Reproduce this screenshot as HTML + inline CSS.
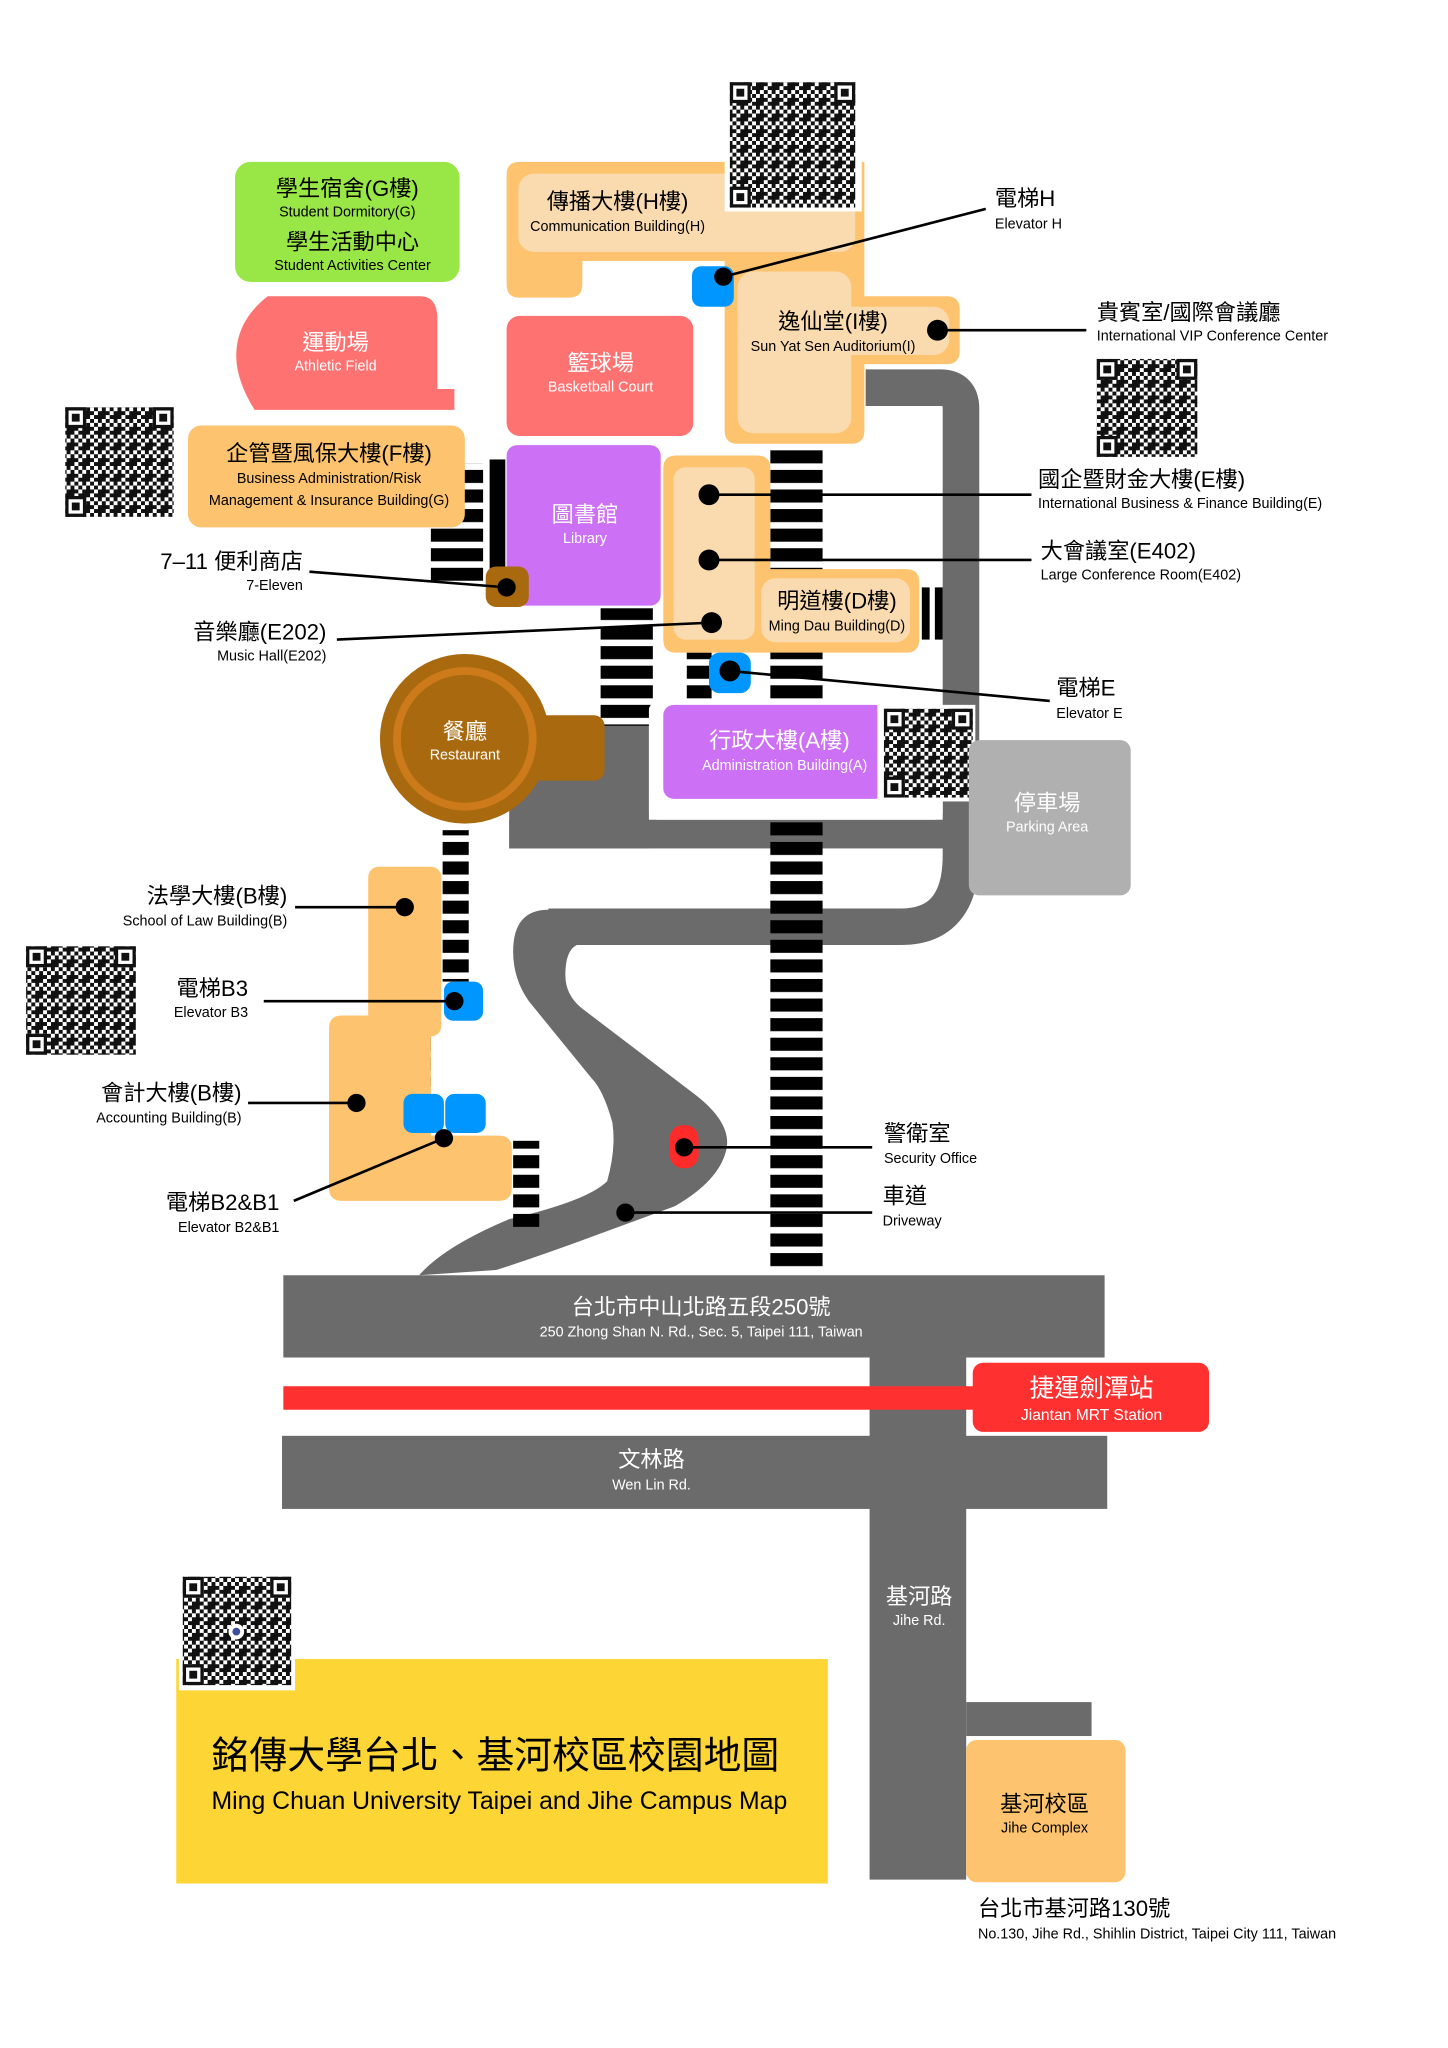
<!DOCTYPE html>
<html><head><meta charset="utf-8"><style>
html,body{margin:0;padding:0;background:#fff;}
svg{display:block;}
text{font-family:"Liberation Sans","Noto Sans CJK TC",sans-serif;}
.c{font-size:17px;}
.e{font-size:11px;}
.w{fill:#fff;}
</style></head><body>
<svg width="1448" height="2048" viewBox="0 0 1109 1569" preserveAspectRatio="none" xmlns="http://www.w3.org/2000/svg">
<defs>
<pattern id="qr" width="12" height="12" patternUnits="userSpaceOnUse">
<rect width="12" height="12" fill="#fff"/>
<rect x="0" y="0" width="3" height="3" fill="#111"/><rect x="6" y="0" width="3" height="6" fill="#111"/>
<rect x="3" y="3" width="3" height="3" fill="#111"/><rect x="9" y="3" width="3" height="3" fill="#111"/>
<rect x="0" y="6" width="6" height="3" fill="#111"/><rect x="9" y="9" width="3" height="3" fill="#111"/>
<rect x="3" y="9" width="3" height="3" fill="#111"/><rect x="6" y="6" width="3" height="3" fill="#111"/>
</pattern>
<pattern id="stairH" width="10" height="15" patternUnits="userSpaceOnUse"><rect width="10" height="10" fill="#000"/></pattern>
<g id="finder"><rect width="16" height="16" fill="#111"/><rect x="2.5" y="2.5" width="11" height="11" fill="#fff"/><rect x="5" y="5" width="6" height="6" fill="#111"/></g>
</defs>

<!-- gray roads -->
<path d="M663,297 H720 Q736,297 736,313 V655 Q736,710 690,710 H420" fill="none" stroke="#6b6b6b" stroke-width="28"/>
<rect x="390" y="628" width="346" height="22" fill="#6b6b6b"/>
<rect x="390" y="555" width="107" height="95" fill="#6b6b6b"/>
<path d="M420,697 H700 V723 H445 Q433,725 433,747 Q433,762 445,772 L529,836 Q562,860 556,882 Q550,905 517,924 L441,952 Q405,965 380,973 L321,977 Q340,955 390,934 Q450,920 465,905 Q472,880 469,860 Q462,835 453,826 L405,767 Q393,750 393,729 Q393,697 420,697 Z" fill="#6b6b6b"/>

<!-- stair columns -->
<rect x="590" y="342" width="40" height="630" fill="url(#stairH)"/>
<rect x="460" y="466" width="40" height="90" fill="url(#stairH)"/>
<rect x="526" y="500" width="19" height="36" fill="url(#stairH)"/>
<rect x="330" y="355" width="40" height="90" fill="url(#stairH)"/>
<rect x="375" y="352" width="12" height="88" fill="#000"/>
<rect x="339" y="636" width="20" height="116" fill="url(#stairH)"/>
<rect x="311" y="790" width="19" height="42" fill="url(#stairH)"/>
<rect x="393" y="874" width="20" height="66" fill="url(#stairH)"/>
<rect x="706" y="450" width="6" height="40" fill="#000"/><rect x="716" y="450" width="6" height="40" fill="#000"/>

<!-- white admin bg -->
<rect x="497" y="538" width="225" height="90" rx="6" fill="#fff"/>

<!-- Communication H -->
<path d="M398,124 H662 V200 H446 V218 Q446,228 436,228 H398 Q388,228 388,218 V134 Q388,124 398,124 Z" fill="#fdc36e"/>
<rect x="397" y="133" width="258" height="60" rx="12" fill="#fadbb0"/>
<rect x="555" y="60" width="105" height="102" fill="#fff"/>
<rect x="559" y="63" width="96" height="96" fill="url(#qr)"/>
<use href="#finder" x="559" y="63"/><use href="#finder" x="639" y="63"/><use href="#finder" x="559" y="143"/>
<text x="473" y="160" class="c" text-anchor="middle">傳播大樓(H樓)</text>
<text x="473" y="177" class="e" text-anchor="middle">Communication Building(H)</text>

<!-- Sun Yat Sen -->
<path d="M555,200 H662 V227 H725 Q735,227 735,237 V269 Q735,279 725,279 H662 V330 Q662,340 652,340 H565 Q555,340 555,330 Z" fill="#fdc36e"/>
<rect x="565" y="208" width="87" height="124" rx="12" fill="#fadbb0"/>
<rect x="565" y="235" width="162" height="37" rx="12" fill="#fadbb0"/>
<text x="638" y="252" class="c" text-anchor="middle">逸仙堂(I樓)</text>
<text x="638" y="269" class="e" text-anchor="middle">Sun Yat Sen Auditorium(I)</text>

<!-- elevator H -->
<rect x="530" y="204" width="32" height="31" rx="7" fill="#0096ff"/>
<line x1="554" y1="212" x2="755" y2="160" stroke="#000" stroke-width="2"/>
<circle cx="554" cy="212" r="7"/>
<text x="762" y="158" class="c">電梯H</text><text x="762" y="175" class="e">Elevator H</text>

<line x1="718" y1="253" x2="832" y2="253" stroke="#000" stroke-width="2"/><circle cx="718" cy="253" r="8"/>
<text x="840" y="245" class="c">貴賓室/國際會議廳</text>
<text x="840" y="261" class="e">International VIP Conference Center</text>
<rect x="840" y="275" width="77" height="75" fill="url(#qr)"/>
<use href="#finder" x="840" y="275"/><use href="#finder" x="901" y="275"/><use href="#finder" x="840" y="334"/>

<!-- Green -->
<rect x="180" y="124" width="172" height="92" rx="12" fill="#99e647"/>
<text x="266" y="150" class="c" text-anchor="middle">學生宿舍(G樓)</text>
<text x="266" y="166" class="e" text-anchor="middle">Student Dormitory(G)</text>
<text x="270" y="191" class="c" text-anchor="middle">學生活動中心</text>
<text x="270" y="207" class="e" text-anchor="middle">Student Activities Center</text>

<!-- Athletic -->
<path d="M205,227 H322 Q335,227 335,245 V298 H348 V314 H195 Q180,290 181,270 Q182,245 205,227 Z" fill="#ff7272"/>
<text x="257" y="268" class="c w" text-anchor="middle">運動場</text>
<text x="257" y="284" class="e w" text-anchor="middle">Athletic Field</text>

<!-- Basketball -->
<rect x="388" y="242" width="143" height="92" rx="10" fill="#ff7272"/>
<text x="460" y="284" class="c w" text-anchor="middle">籃球場</text>
<text x="460" y="300" class="e w" text-anchor="middle">Basketball Court</text>

<!-- F building -->
<rect x="144" y="326" width="212" height="78" rx="10" fill="#fdc36e"/>
<text x="252" y="353" class="c" text-anchor="middle">企管暨風保大樓(F樓)</text>
<text x="252" y="370" class="e" text-anchor="middle">Business Administration/Risk</text>
<text x="252" y="387" class="e" text-anchor="middle">Management &amp; Insurance Building(G)</text>
<rect x="50" y="312" width="83" height="84" fill="url(#qr)"/>
<use href="#finder" x="50" y="312"/><use href="#finder" x="117" y="312"/><use href="#finder" x="50" y="380"/>

<!-- Library -->
<rect x="388" y="341" width="118" height="123" rx="8" fill="#cc70f5"/>
<text x="448" y="400" class="c w" text-anchor="middle">圖書館</text>
<text x="448" y="416" class="e w" text-anchor="middle">Library</text>

<!-- 7-11 -->
<rect x="372" y="434" width="33" height="31" rx="8" fill="#a8690f"/>
<line x1="237" y1="438" x2="388" y2="450" stroke="#000" stroke-width="2"/><circle cx="388" cy="450" r="7"/>
<text x="232" y="436" class="c" text-anchor="end">7–11 便利商店</text>
<text x="232" y="452" class="e" text-anchor="end">7-Eleven</text>

<!-- E & D buildings -->
<path d="M518,349 H580 Q590,349 590,359 V436 H694 Q704,436 704,446 V490 Q704,500 694,500 H518 Q508,500 508,490 V359 Q508,349 518,349 Z" fill="#fdc36e"/>
<rect x="516" y="358" width="62" height="132" rx="9" fill="#fadbb0"/>
<rect x="583" y="443" width="114" height="49" rx="11" fill="#fadbb0"/>
<text x="641" y="466" class="c" text-anchor="middle">明道樓(D樓)</text>
<text x="641" y="483" class="e" text-anchor="middle">Ming Dau Building(D)</text>
<line x1="543" y1="379" x2="790" y2="379" stroke="#000" stroke-width="2"/><circle cx="543" cy="379" r="8"/>
<line x1="543" y1="429" x2="790" y2="429" stroke="#000" stroke-width="2"/><circle cx="543" cy="429" r="8"/>
<line x1="258" y1="490" x2="545" y2="477" stroke="#000" stroke-width="2"/><circle cx="545" cy="477" r="8"/>
<text x="795" y="373" class="c">國企暨財金大樓(E樓)</text>
<text x="795" y="389" class="e">International Business &amp; Finance Building(E)</text>
<text x="797" y="428" class="c">大會議室(E402)</text>
<text x="797" y="444" class="e">Large Conference Room(E402)</text>
<text x="250" y="490" class="c" text-anchor="end">音樂廳(E202)</text>
<text x="250" y="506" class="e" text-anchor="end">Music Hall(E202)</text>

<!-- Elevator E -->
<rect x="543" y="500" width="32" height="31" rx="8" fill="#0096ff"/>
<line x1="559" y1="514" x2="804" y2="537" stroke="#000" stroke-width="2"/><circle cx="559" cy="514" r="8"/>
<text x="809" y="533" class="c">電梯E</text><text x="809" y="550" class="e">Elevator E</text>

<!-- Admin -->
<rect x="508" y="540" width="170" height="72" rx="8" fill="#cc70f5"/>
<rect x="672" y="540" width="75" height="74" fill="#fff"/>
<rect x="677" y="543" width="68" height="68" fill="url(#qr)"/>
<use href="#finder" x="677" y="543"/><use href="#finder" x="729" y="543"/><use href="#finder" x="677" y="595"/>
<text x="597" y="573" class="c w" text-anchor="middle">行政大樓(A樓)</text>
<text x="601" y="590" class="e w" text-anchor="middle">Administration Building(A)</text>

<!-- Parking -->
<rect x="742" y="567" width="124" height="119" rx="8" fill="#b0b0b0"/>
<text x="802" y="621" class="c w" text-anchor="middle">停車場</text>
<text x="802" y="637" class="e w" text-anchor="middle">Parking Area</text>

<!-- Restaurant -->
<rect x="395" y="548" width="68" height="50" rx="8" fill="#a8690f"/>
<circle cx="356" cy="566" r="65" fill="#a8690f"/>
<circle cx="356" cy="566" r="52" fill="none" stroke="#cc7a1a" stroke-width="6"/>
<text x="356" y="566" class="c w" text-anchor="middle">餐廳</text>
<text x="356" y="582" class="e w" text-anchor="middle">Restaurant</text>

<!-- Law / Accounting -->
<rect x="282" y="664" width="56" height="130" rx="8" fill="#fdc36e"/>
<path d="M262,778 H330 V870 H382 Q392,870 392,880 V910 Q392,920 382,920 H262 Q252,920 252,910 V788 Q252,778 262,778 Z" fill="#fdc36e"/>
<rect x="340" y="752" width="30" height="30" rx="7" fill="#0096ff"/>
<rect x="309" y="838" width="31" height="30" rx="7" fill="#0096ff"/>
<rect x="341" y="838" width="31" height="30" rx="7" fill="#0096ff"/>
<line x1="226" y1="695" x2="310" y2="695" stroke="#000" stroke-width="2"/><circle cx="310" cy="695" r="7"/>
<line x1="202" y1="767" x2="348" y2="767" stroke="#000" stroke-width="2"/><circle cx="348" cy="767" r="7"/>
<line x1="190" y1="845" x2="273" y2="845" stroke="#000" stroke-width="2"/><circle cx="273" cy="845" r="7"/>
<line x1="225" y1="920" x2="340" y2="872" stroke="#000" stroke-width="2"/><circle cx="340" cy="872" r="7"/>
<text x="220" y="692" class="c" text-anchor="end">法學大樓(B樓)</text>
<text x="220" y="709" class="e" text-anchor="end">School of Law Building(B)</text>
<text x="190" y="763" class="c" text-anchor="end">電梯B3</text>
<text x="190" y="779" class="e" text-anchor="end">Elevator B3</text>
<text x="185" y="843" class="c" text-anchor="end">會計大樓(B樓)</text>
<text x="185" y="860" class="e" text-anchor="end">Accounting Building(B)</text>
<text x="214" y="927" class="c" text-anchor="end">電梯B2&amp;B1</text>
<text x="214" y="944" class="e" text-anchor="end">Elevator B2&amp;B1</text>
<rect x="20" y="725" width="84" height="83" fill="url(#qr)"/>
<use href="#finder" x="20" y="725"/><use href="#finder" x="88" y="725"/><use href="#finder" x="20" y="792"/>

<!-- Security / Driveway -->
<rect x="513" y="862" width="22" height="33" rx="10" fill="#ff2a2a"/>
<line x1="524" y1="879" x2="668" y2="879" stroke="#000" stroke-width="2"/><circle cx="524" cy="879" r="7"/>
<line x1="479" y1="929" x2="668" y2="929" stroke="#000" stroke-width="2"/><circle cx="479" cy="929" r="7"/>
<text x="677" y="874" class="c">警衛室</text><text x="677" y="891" class="e">Security Office</text>
<text x="676" y="922" class="c">車道</text><text x="676" y="939" class="e">Driveway</text>

<!-- Main roads -->
<rect x="217" y="977" width="629" height="63" fill="#6b6b6b"/>
<text x="537" y="1007" class="c w" text-anchor="middle">台北市中山北路五段250號</text>
<text x="537" y="1024" class="e w" text-anchor="middle">250 Zhong Shan N. Rd., Sec. 5, Taipei 111, Taiwan</text>
<rect x="666" y="1040" width="74" height="400" fill="#6b6b6b"/>
<rect x="216" y="1100" width="632" height="56" fill="#6b6b6b"/>
<text x="499" y="1124" class="c w" text-anchor="middle">文林路</text>
<text x="499" y="1141" class="e w" text-anchor="middle">Wen Lin Rd.</text>
<rect x="217" y="1062" width="530" height="18" fill="#ff3030"/>
<rect x="745" y="1044" width="181" height="53" rx="8" fill="#ff3030"/>
<text x="836" y="1070" font-size="19" class="w" text-anchor="middle">捷運劍潭站</text>
<text x="836" y="1088" font-size="12" class="w" text-anchor="middle">Jiantan MRT Station</text>
<text x="704" y="1229" class="c w" text-anchor="middle">基河路</text>
<text x="704" y="1245" class="e w" text-anchor="middle">Jihe Rd.</text>
<rect x="740" y="1304" width="96" height="26" fill="#6b6b6b"/>
<rect x="740" y="1333" width="122" height="109" rx="8" fill="#fdc36e"/>
<text x="800" y="1388" class="c" text-anchor="middle">基河校區</text>
<text x="800" y="1404" class="e" text-anchor="middle">Jihe Complex</text>
<text x="749" y="1468" class="c">台北市基河路130號</text>
<text x="749" y="1485" class="e">No.130, Jihe Rd., Shihlin District, Taipei City 111, Taiwan</text>

<!-- Title -->
<rect x="135" y="1271" width="499" height="172" fill="#fdd535"/>
<rect x="137" y="1206" width="89" height="89" fill="#fff"/>
<rect x="140" y="1208" width="83" height="83" fill="url(#qr)"/>
<use href="#finder" x="140" y="1208"/><use href="#finder" x="207" y="1208"/><use href="#finder" x="140" y="1275"/>
<circle cx="181" cy="1250" r="6" fill="#fff"/><circle cx="181" cy="1250" r="3" fill="#3a4fa0"/>
<text x="162" y="1355" font-size="29">銘傳大學台北、基河校區校園地圖</text>
<text x="162" y="1386" font-size="19">Ming Chuan University Taipei and Jihe Campus Map</text>
</svg>
</body></html>
